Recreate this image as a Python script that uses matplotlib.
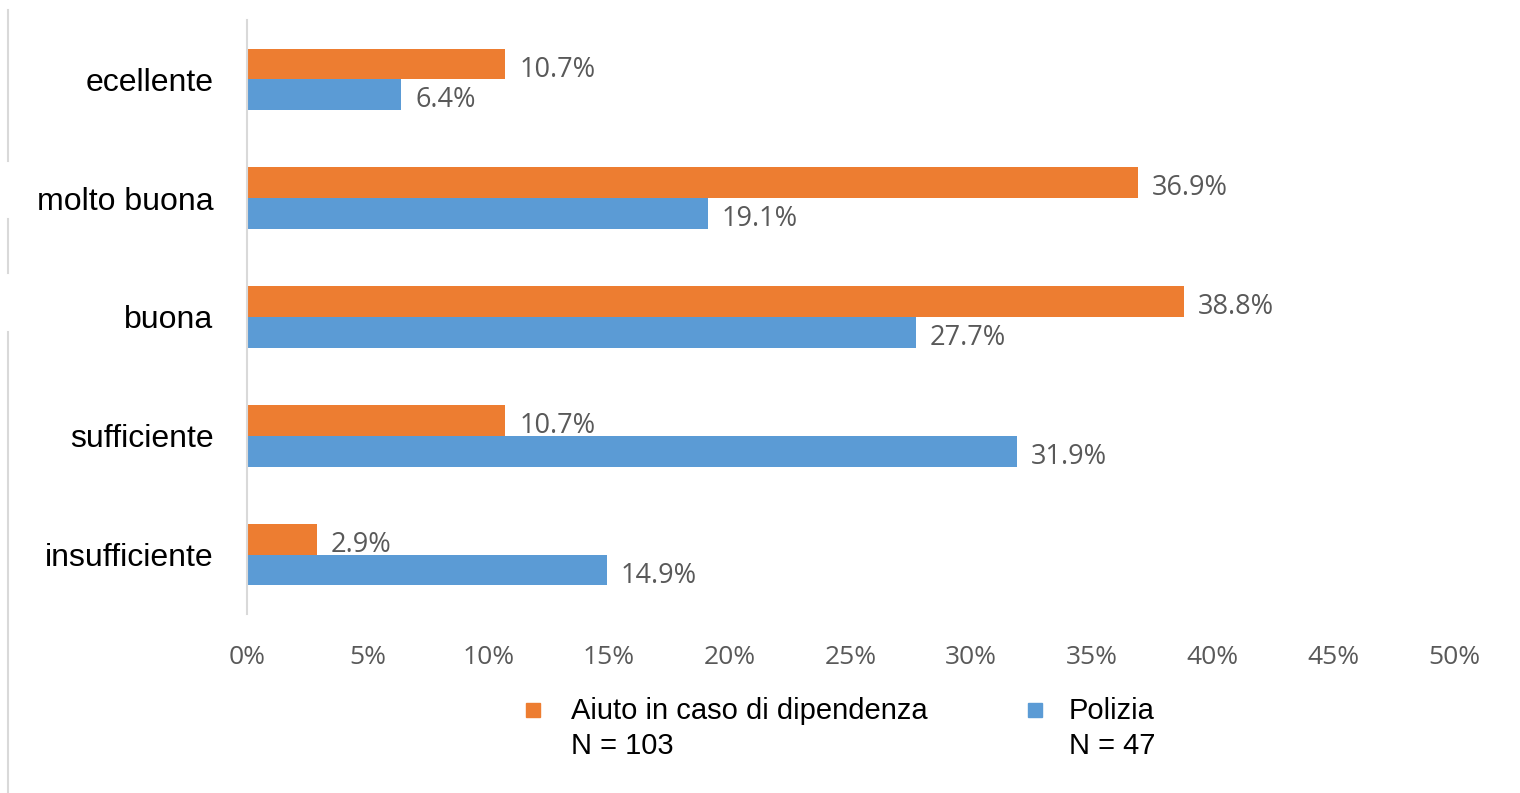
import matplotlib
matplotlib.use("Agg")
import matplotlib.pyplot as plt
from matplotlib.patches import Rectangle
from matplotlib.lines import Line2D
import numpy as np

categories = ["ecellente", "molto buona", "buona", "sufficiente", "insufficiente"]
aiuto = [10.7, 36.9, 38.8, 10.7, 2.9]
polizia = [6.4, 19.1, 27.7, 31.9, 14.9]
series_names = ["Aiuto in caso di dipendenza\nN = 103", "Polizia\nN = 47"]
xticks = [0, 5, 10, 15, 20, 25, 30, 35, 40, 45, 50]

ORANGE = "#ED7D31"
BLUE = "#5B9BD5"
GRID = "#D9D9D9"
TXT = "#595959"
NUMFONT = ["Open Sans", "DejaVu Sans"]
CATFONT = ["Liberation Sans", "DejaVu Sans"]

W, H = 1520, 793
fig = plt.figure(figsize=(W / 100, H / 100), dpi=100)
ax = fig.add_axes([247 / W, 1 - 614 / H, (1454 - 247) / W, (614 - 20) / H])

y = np.arange(len(categories))
h = 0.26
ax.barh(y - h / 2, aiuto, height=h, color=ORANGE)
ax.barh(y + h / 2, polizia, height=h, color=BLUE)

for yi, v in zip(y, aiuto):
    ax.annotate(f"{v:.1f}%", (v, yi - h / 2), xytext=(10, -4), textcoords="offset points",
                va="center", ha="left", fontsize=19.5, color=TXT, family=NUMFONT)
for yi, v in zip(y, polizia):
    ax.annotate(f"{v:.1f}%", (v, yi + h / 2), xytext=(10, -4), textcoords="offset points",
                va="center", ha="left", fontsize=19.5, color=TXT, family=NUMFONT)

ax.set_xlim(0, 50)
ax.set_ylim(len(categories) - 0.5, -0.5)
ax.set_xticks(xticks)
ax.set_xticklabels([f"{t}%" for t in xticks], family=NUMFONT, fontsize=19, color=TXT)
ax.set_yticks(y)
ax.set_yticklabels(categories, family=CATFONT, fontsize=23, color="black")
ax.tick_params(axis="x", length=0, pad=22)
ax.tick_params(axis="y", length=0, pad=24)
for s in ["top", "right", "bottom"]:
    ax.spines[s].set_visible(False)
ax.spines["left"].set_color(GRID)
ax.spines["left"].set_linewidth(1.5)

# legend drawn manually
for sx, tx, col, lab in [(533, 571, ORANGE, series_names[0]), (1035, 1069, BLUE, series_names[1])]:
    fig.add_artist(Rectangle((sx / W - 7 / W, 1 - 717 / H), 14 / W, 14 / H,
                             transform=fig.transFigure, color=col))
    fig.text(tx / W, 1 - 697 / H, lab, ha="left", va="top", family=CATFONT,
             fontsize=21, color="black", linespacing=1.32)

# decorative light grey lines at left edge
for y0, y1 in [(10, 161), (219, 273), (332, 793)]:
    fig.add_artist(Line2D([8 / W, 8 / W], [1 - y0 / H, 1 - y1 / H],
                          transform=fig.transFigure, color=GRID, linewidth=1.5))

fig.savefig("out.png", dpi=100)
